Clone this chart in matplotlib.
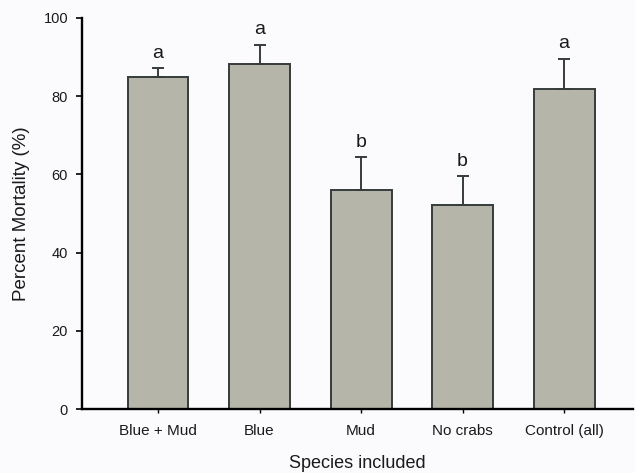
import matplotlib
matplotlib.use("Agg")
import matplotlib.pyplot as plt
import numpy as np

plt.rcParams['font.family'] = ['Liberation Sans', 'DejaVu Sans']

# Mean mortality by crab species treatment, with standard errors
categories = ["Blue + Mud", "Blue", "Mud", "No crabs", "Control (all)"]
mortality = [85.0, 88.3, 56.1, 52.1, 81.8]
std_err = [2.2, 4.9, 8.3, 7.4, 7.8]
groups = ["a", "a", "b", "b", "a"]
y_ticks = [0, 20, 40, 60, 80, 100]

bg = "#fbfbfd"
ink = "#1a1a1a"
fig = plt.figure(figsize=(6.35, 4.73), dpi=100, facecolor=bg)
ax = fig.add_axes([0.129, 0.1353, 0.868, 0.8267], facecolor=bg)

x = np.arange(len(categories))
ax.bar(x, mortality, width=0.6, color="#b5b5a9", edgecolor="#363c3c",
       linewidth=1.4, zorder=2)
ax.errorbar(x, mortality, yerr=[np.zeros(len(x)), std_err], fmt="none",
            ecolor="#363c3c", elinewidth=1.4, capsize=4.5, capthick=1.4,
            zorder=3)

for xi, m, e, g in zip(x, mortality, std_err, groups):
    ax.annotate(g, (xi, m + e), xytext=(0, 7.5), textcoords="offset points",
                ha="center", va="baseline", fontsize=14, color=ink)

ax.set_xlim(-0.75, 4.68)
ax.set_ylim(0, 100)
ax.set_yticks(y_ticks)
ax.set_xticks(x)
ax.set_xticklabels(categories, fontsize=11, color=ink)
ax.tick_params(axis="y", labelsize=10.5, labelcolor=ink, length=4.5,
               width=1.2, direction="out", pad=5.5)
ax.tick_params(axis="x", length=3, width=1.0, direction="out", pad=8)

for side in ("top", "right"):
    ax.spines[side].set_visible(False)
for side in ("left", "bottom"):
    ax.spines[side].set_linewidth(1.7)
    ax.spines[side].set_color("black")

ax.set_ylabel("Percent Mortality (%)", fontsize=13.5, color=ink, labelpad=10)
ax.set_xlabel("Species included", fontsize=13, color=ink, labelpad=12)

fig.savefig("out.png", dpi=100, facecolor=bg)
